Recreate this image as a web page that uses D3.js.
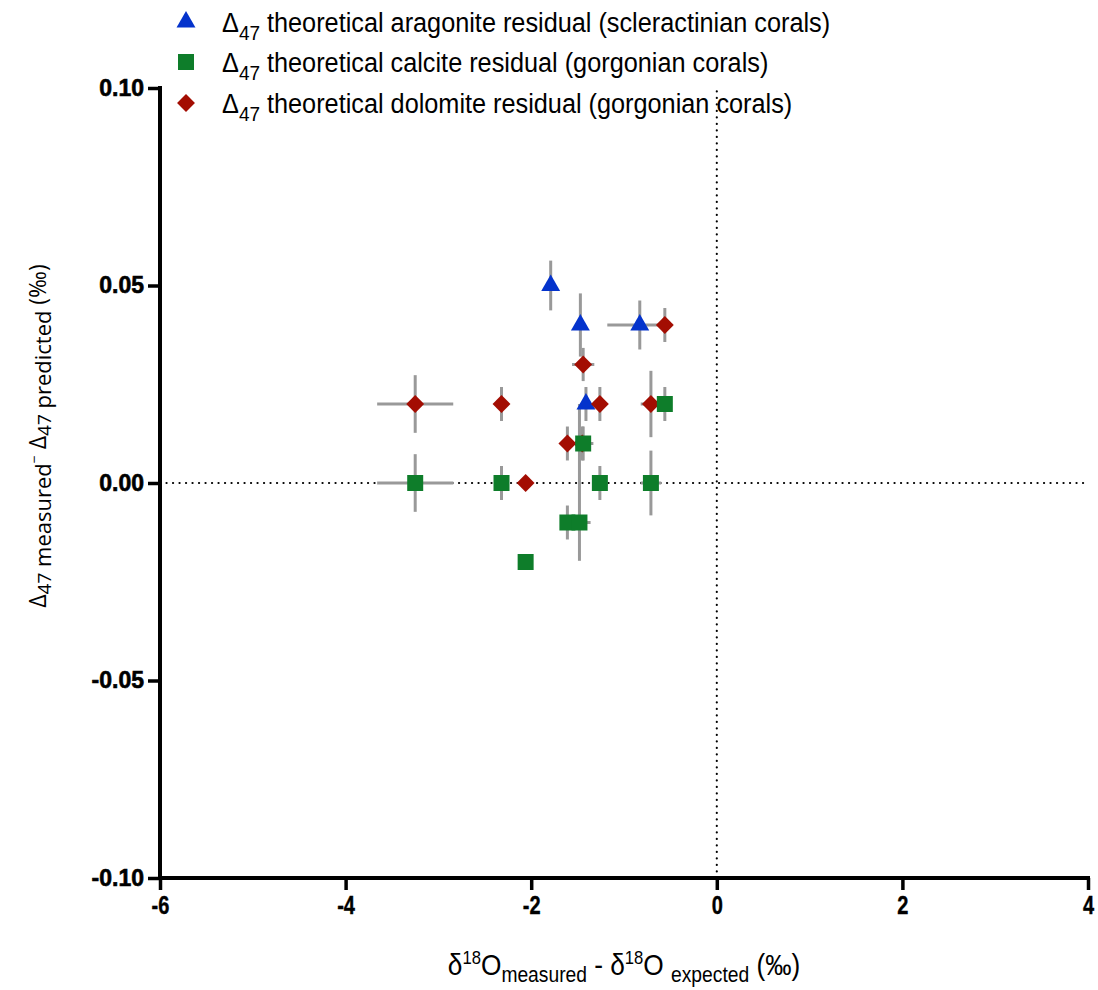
<!DOCTYPE html>
<html><head><meta charset="utf-8">
<script src="https://cdn.jsdelivr.net/npm/d3@7"></script>
<style>body{margin:0;background:#fff}</style>
</head><body>
<svg id="chart" width="1098" height="990"></svg>
<script>
// ---- data ----
const xTicks = [-6, -4, -2, 0, 2, 4];
const yTicks = [-0.10, -0.05, 0.00, 0.05, 0.10];

// aragonite residual (scleractinian corals) — triangles
const aragX    = [-1.79, -1.47, -0.83, -1.41];
const aragY    = [0.050, 0.040, 0.040, 0.020];
const aragXErr = [0, 0, 0.35, 0];
const aragYLo  = [0.0063, 0.008, 0.0062, 0.0043];
const aragYHi  = [0.0063, 0.008, 0.0062, 0.0043];

// calcite residual (gorgonian corals) — squares
const calcX    = [-3.25, -2.32, -2.06, -0.56, -1.44, -1.26, -0.71, -1.61, -1.48];
const calcY    = [0.000, 0.000, -0.020, 0.020, 0.010, 0.000, 0.000, -0.010, -0.010];
const calcXErr = [0.41, 0, 0, 0, 0.11, 0, 0.11, 0, 0.12];
const calcYLo  = [0.0073, 0.0043, 0.002, 0.0043, 0.0043, 0.0043, 0.0082, 0.0043, 0.0097];
const calcYHi  = [0.0073, 0.0043, 0.002, 0.0043, 0.0043, 0.0043, 0.0082, 0.0043, 0.030];

// dolomite residual (gorgonian corals) — diamonds
const dolX    = [-3.25, -2.32, -2.06, -1.44, -0.56, -1.26, -0.71, -1.61, -1.45];
const dolY    = [0.020, 0.020, 0.000, 0.030, 0.040, 0.020, 0.020, 0.010, 0.010];
const dolXErr = [0.41, 0, 0, 0.12, 0, 0, 0.11, 0, 0];
const dolYLo  = [0.0073, 0.0043, 0, 0.0042, 0.0043, 0.0043, 0.0084, 0.0043, 0.0043];
const dolYHi  = [0.0073, 0.0043, 0, 0.0042, 0.0043, 0.0043, 0.0084, 0.0043, 0.0043];

const seriesNames = ["theoretical aragonite residual (scleractinian corals)",
                     "theoretical calcite residual (gorgonian corals)",
                     "theoretical dolomite residual (gorgonian corals)"];
const seriesColors = ["#0433CC", "#0E7D2A", "#A30D02"];

// ---- build ----
function rows(xs, ys, xe, ylo, yhi){ return xs.map((x,i)=>({x, y:ys[i], xe:xe[i], ylo:ylo[i], yhi:yhi[i]})); }
const series = [
  {name: seriesNames[0], color: seriesColors[0], shape: "tri",  data: rows(aragX, aragY, aragXErr, aragYLo, aragYHi)},
  {name: seriesNames[1], color: seriesColors[1], shape: "sq",   data: rows(calcX, calcY, calcXErr, calcYLo, calcYHi)},
  {name: seriesNames[2], color: seriesColors[2], shape: "dia",  data: rows(dolX, dolY, dolXErr, dolYLo, dolYHi)}
];

const svg = d3.select("#chart");
const L = 160, R = 1088, T = 88, B = 878;
const x = d3.scaleLinear().domain([-6, 4]).range([L, R]);
const y = d3.scaleLinear().domain([-0.1, 0.1]).range([B, T]);

function symbolPath(shape){
  if (shape === "tri") return d3.symbol(d3.symbolTriangle, 155)();
  if (shape === "sq") return d3.symbol(d3.symbolSquare, 256)();
  return d3.symbol(d3.symbolSquare, 160)();
}
function symbolRot(shape){ return shape === "dia" ? " rotate(45)" : ""; }

// zero reference lines (dotted)
svg.append("line").attr("x1", x(-6)).attr("x2", x(4)).attr("y1", y(0)).attr("y2", y(0))
  .attr("stroke", "#000").attr("stroke-width", 2.2).attr("stroke-linecap", "round").attr("stroke-dasharray", "0.1,6.4");
svg.append("line").attr("x1", x(0)).attr("x2", x(0)).attr("y1", y(-0.1)).attr("y2", y(0.1))
  .attr("stroke", "#000").attr("stroke-width", 2.2).attr("stroke-linecap", "round").attr("stroke-dasharray", "0.1,6.4");

// error bars
const eb = svg.append("g").attr("stroke", "#999").attr("stroke-width", 3);
series.forEach(s => {
  s.data.forEach(d => {
    if (d.ylo > 0 || d.yhi > 0)
      eb.append("line").attr("x1", x(d.x)).attr("x2", x(d.x)).attr("y1", y(d.y - d.ylo)).attr("y2", y(d.y + d.yhi));
    if (d.xe > 0)
      eb.append("line").attr("y1", y(d.y)).attr("y2", y(d.y)).attr("x1", x(d.x - d.xe)).attr("x2", x(d.x + d.xe));
  });
});

// markers: triangles, diamonds, squares (squares on top)
[0, 2, 1].forEach(i => {
  const s = series[i];
  svg.append("g").selectAll("path").data(s.data).join("path")
    .attr("d", symbolPath(s.shape))
    .attr("transform", d => `translate(${x(d.x)},${y(d.y)})${symbolRot(s.shape)}`)
    .attr("fill", s.color);
});

// axes
const yAxis = d3.axisLeft(y).tickValues(yTicks).tickFormat(d => d.toFixed(2)).tickSize(12).tickPadding(4);
const xAxis = d3.axisBottom(x).tickValues(xTicks).tickFormat(d => String(d)).tickSize(12).tickPadding(6);
const gy = svg.append("g").attr("transform", `translate(${L},0)`).call(yAxis);
const gx = svg.append("g").attr("transform", `translate(0,${B})`).call(xAxis);
[gx, gy].forEach(g => {
  g.select(".domain").attr("stroke", "#000").attr("stroke-width", 4).attr("d", null);
  g.selectAll(".tick line").attr("stroke", "#000").attr("stroke-width", 3.5);
});
gy.select(".domain").attr("d", `M0,${T-2}V${B+2}`);
gx.select(".domain").attr("d", `M${L-2},0H${R+2}`);
gy.selectAll(".tick text").attr("font-family", "Liberation Sans, Arial, sans-serif").attr("font-weight", "bold")
  .attr("font-size", 23).attr("fill", "#000").attr("stroke", "#000").attr("stroke-width", 0.6);
gx.selectAll(".tick text").attr("font-family", "Liberation Sans, Arial, sans-serif").attr("font-weight", "bold")
  .attr("font-size", 25).attr("fill", "#000").attr("stroke", "#000").attr("stroke-width", 0.4)
  .attr("transform", "scale(0.8,1)");

// x axis title
const xt = svg.append("text").attr("transform", "translate(624,975) scale(0.875,1)").attr("text-anchor", "middle")
  .attr("font-family", "Liberation Sans, Arial, sans-serif").attr("font-size", 30).attr("fill", "#000");
xt.append("tspan").text("δ");
xt.append("tspan").attr("dy", -11).attr("font-size", 19).text("18");
xt.append("tspan").attr("dy", 11).text("O");
xt.append("tspan").attr("dy", 7).attr("font-size", 22).text("measured");
xt.append("tspan").attr("dy", -7).text(" - δ");
xt.append("tspan").attr("dy", -11).attr("font-size", 19).text("18");
xt.append("tspan").attr("dy", 11).text("O ");
xt.append("tspan").attr("dy", 7).attr("font-size", 22).text("expected");
xt.append("tspan").attr("dy", -7).text(" (‰)");

// y axis title
const yt = svg.append("text").attr("transform", "translate(46,436) rotate(-90)").attr("text-anchor", "middle")
  .attr("font-family", "Open Sans, sans-serif").attr("font-size", 23).attr("fill", "#000");
yt.append("tspan").text("Δ");
yt.append("tspan").attr("dy", 5).attr("font-size", 19).text("47");
yt.append("tspan").attr("font-size", 22).text(" measured");
yt.append("tspan").attr("dy", -12).attr("font-size", 14).text("−");
yt.append("tspan").attr("dy", 7).text(" Δ");
yt.append("tspan").attr("dy", 5).attr("font-size", 19).text("47");
yt.append("tspan").attr("font-size", 22).text(" predicted ");
yt.append("tspan").attr("dy", -5).text("(‰)");

// legend
const legY = [22, 62, 103];
series.forEach((s, i) => {
  svg.append("path").attr("d", symbolPath(s.shape))
    .attr("transform", `translate(186,${legY[i]})${symbolRot(s.shape)}`).attr("fill", s.color);
  const t = svg.append("text").attr("transform", `translate(222,${legY[i] + 10}) scale(0.903,1)`)
    .attr("font-family", "Liberation Sans, Arial, sans-serif").attr("font-size", 28).attr("fill", "#000");
  t.append("tspan").text("Δ");
  t.append("tspan").attr("dy", 8).attr("font-size", 21).text("47");
  t.append("tspan").attr("dy", -8).text(" " + s.name);
});
</script>
</body></html>
